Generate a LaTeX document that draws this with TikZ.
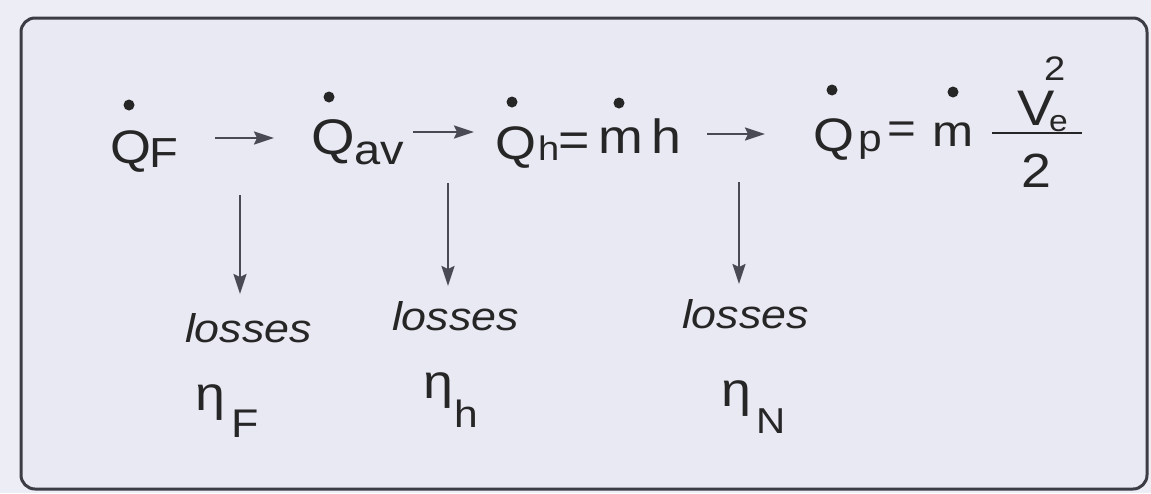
\documentclass[tikz,border=0pt]{standalone}
\usepackage{fontspec}
\setmainfont{Liberation Sans}[FakeStretch=1.12]
\usetikzlibrary{arrows.meta}
\definecolor{bg}{HTML}{EDEDF6}
\definecolor{boxbg}{HTML}{E9E9F4}
\definecolor{ink}{HTML}{262626}
\definecolor{frame}{HTML}{3C3C44}
\definecolor{arr}{HTML}{4A4A55}
\newcommand\fsz[1]{\fontsize{#1}{#1}\selectfont}
\begin{document}
\begin{tikzpicture}[x=1pt,y=-1pt,
  txt/.style={inner sep=0pt,outer sep=0pt,anchor=base west,text=ink},
  lossbox/.style={txt,font=\fsz{40}\itshape},
  dotm/.style={fill=ink,draw=none},
  flow/.style={draw=arr,line width=2.2pt,-{Stealth[length=20pt,width=13pt,inset=3pt]}}]
\fill[bg] (0,0) rectangle (1151,493);
\useasboundingbox (0,0) rectangle (1151,493);
\draw[line width=3pt,draw=frame,fill=boxbg,rounded corners=14pt] (21,18) rectangle (1147,489);

% Q_F
\node[txt] (QF) at (110,163) {\fsz{47}Q};
\node[txt] (QFs) at (149,167) {\fsz{42}F};
\fill[dotm] (129,105) circle (5.5pt);

% Q_av
\node[txt] (Qav) at (311,154) {\fsz{50}Q};
\node[txt] (Qavs) at (354,164) {\fsz{42}av};
\fill[dotm] (329,97) circle (5.5pt);

% Q_h = m h
\node[txt] (Qh) at (495,159) {\fsz{47}Q};
\node[txt] (Qhs) at (538,160) {\fsz{34}h};
\node[txt] (eq1) at (558,156) {\fsz{48}=};
\node[txt] (m1) at (598,153) {\fsz{48}m};
\node[txt] (h1) at (651,153) {\fsz{48}h};
\fill[dotm] (512,102) circle (5.5pt);
\fill[dotm] (619,103) circle (5.5pt);

% Q_p = m V_e^2 / 2
\node[txt] (Qp) at (813,151) {\fsz{47}Q};
\node[txt] (Qps) at (858,151) {\fsz{38}p};
\node[txt] (eq2) at (887,143) {\fsz{44}=};
\node[txt] (m2) at (932,146) {\fsz{44}m};
\fill[dotm] (832,90) circle (5.5pt);
\fill[dotm] (953,92) circle (5.5pt);
\node[txt] (V) at (1017,125) {\fsz{50}V};
\node[txt] (Ve) at (1049,131) {\fsz{30}e};
\node[txt] (Vsq) at (1044,80) {\fsz{34}2};
\node[txt] (den) at (1021,187) {\fsz{48}2};
\coordinate (barL) at (992,133);
\coordinate (barR) at (1082,133);
\draw[draw=ink,line width=1.8pt] (barL) -- (barR);

% horizontal arrows
\coordinate (h1s) at (215,138); \coordinate (h1e) at (274,138);
\coordinate (h2s) at (413,132); \coordinate (h2e) at (474,132);
\coordinate (h3s) at (707,134); \coordinate (h3e) at (765,134);
\draw[flow] (h1s) -- (h1e);
\draw[flow] (h2s) -- (h2e);
\draw[flow] (h3s) -- (h3e);

% losses labels
\node[lossbox] (L1) at (185,342) {losses};
\node[lossbox] (L2) at (392,330) {losses};
\node[lossbox] (L3) at (682,328) {losses};

% vertical arrows
\coordinate (v1s) at (240,195); \coordinate (v1e) at (240,294);
\coordinate (v2s) at (448,183); \coordinate (v2e) at (448,286);
\coordinate (v3s) at (739,182); \coordinate (v3e) at (739,284);
\draw[flow] (v1s) -- (v1e);
\draw[flow] (v2s) -- (v2e);
\draw[flow] (v3s) -- (v3e);

% efficiencies
\node[txt] (etaF) at (195,410) {\fsz{48}η};
\node[txt] (etaFs) at (231,437) {\fsz{40}F};
\node[txt] (etah) at (423,398) {\fsz{48}η};
\node[txt] (etahs) at (454,427) {\fsz{38}h};
\node[txt] (etaN) at (721,406) {\fsz{48}η};
\node[txt] (etaNs) at (756,433) {\fsz{36}N};
\end{tikzpicture}
\end{document}
